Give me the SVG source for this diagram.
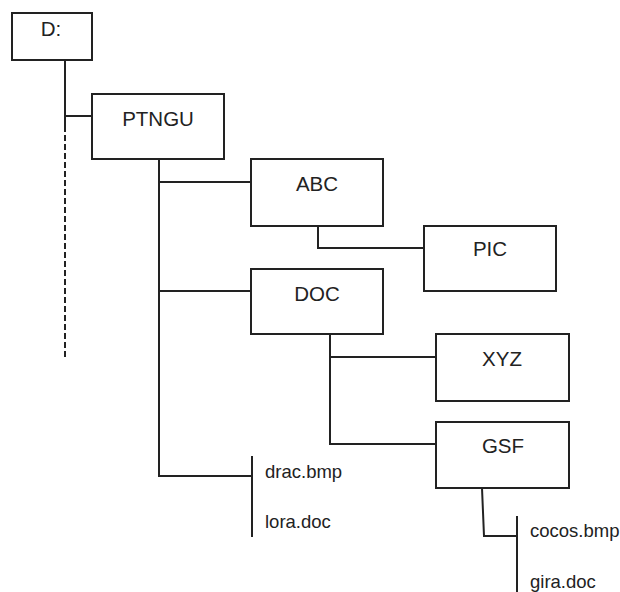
<svg xmlns="http://www.w3.org/2000/svg" width="620" height="592" viewBox="0 0 620 592">
<style>
.box{fill:#fff;stroke:#222;stroke-width:2}
.ln{fill:none;stroke:#222;stroke-width:2}
.lbl{font-family:"Liberation Sans",Arial,sans-serif;font-size:20.5px;fill:#222;text-anchor:middle}
.file{font-family:"Liberation Sans",Arial,sans-serif;font-size:18.5px;fill:#222}
</style>
<rect width="620" height="592" fill="#fff"/>
<g id="connectors">
<path class="ln" d="M65,60 V126 M65,116 H92"/>
<path class="ln" d="M65,126 V360" stroke-dasharray="6,3" stroke-width="2.5"/>
<path class="ln" d="M159,159 V476 H252 M159,182 H251 M159,291 H251"/>
<path class="ln" d="M318,226 V248 H424"/>
<path class="ln" d="M330,334 V444 H436 M330,357 H436"/>
<path class="ln" d="M252,456 V537"/>
<path class="ln" d="M482,488 L484,536 H517 M517,516 V592"/>
</g>
<g id="node-d"><rect class="box" x="12" y="13" width="80" height="47"/><text class="lbl" x="51" y="36">D:</text></g>
<g id="node-ptngu"><rect class="box" x="92" y="94" width="132" height="65"/><text class="lbl" x="158" y="126">PTNGU</text></g>
<g id="node-abc"><rect class="box" x="251" y="159" width="132" height="67"/><text class="lbl" x="317" y="191">ABC</text></g>
<g id="node-pic"><rect class="box" x="424" y="226" width="132" height="65"/><text class="lbl" x="490" y="256">PIC</text></g>
<g id="node-doc"><rect class="box" x="251" y="269" width="132" height="65"/><text class="lbl" x="317" y="301">DOC</text></g>
<g id="node-xyz"><rect class="box" x="436" y="334" width="133" height="67"/><text class="lbl" x="502" y="366">XYZ</text></g>
<g id="node-gsf"><rect class="box" x="436" y="422" width="133" height="66"/><text class="lbl" x="503" y="453">GSF</text></g>
<g id="files-ptngu"><text class="file" x="265" y="478">drac.bmp</text><text class="file" x="265" y="528">lora.doc</text></g>
<g id="files-gsf"><text class="file" x="530" y="537">cocos.bmp</text><text class="file" x="530" y="588">gira.doc</text></g>
</svg>
